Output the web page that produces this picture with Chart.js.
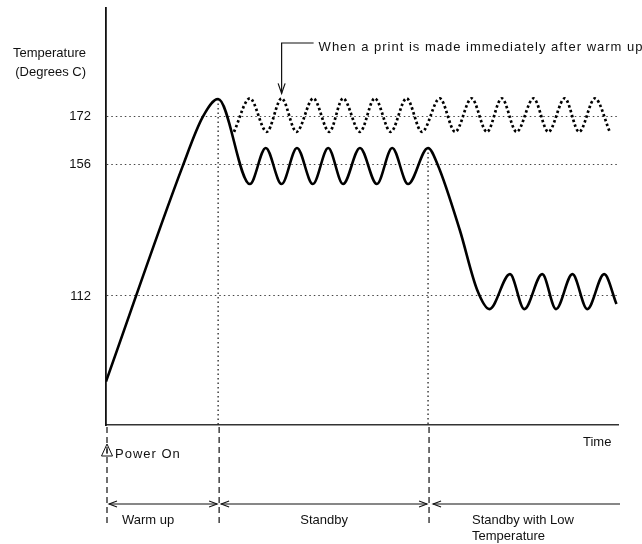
<!DOCTYPE html>
<html>
<head>
<meta charset="utf-8">
<script src="https://cdn.jsdelivr.net/npm/chart.js@4.4.1/dist/chart.umd.min.js"></script>
<style>
  html, body { margin: 0; padding: 0; background: #fff; }
  #wrap { width: 642px; height: 544px; position: relative; }
</style>
</head>
<body>
<div id="wrap"><canvas id="myChart"></canvas></div>
<script>
// time has no units on the original, so it runs 0..100 across the axis
// temperature in degrees C
const heaterTime = [0, 15.0, 18.9, 21.9, 28.1, 31.2, 34.3, 37.3, 40.4, 43.4, 46.3, 49.6, 52.9, 55.9, 59.0, 62.9,
  64.8, 69.1, 72.5, 74.9, 78.9, 81.7, 85.2, 87.9, 91.1, 94.0, 97.3, 99.7];
const heaterTemp = [83.3, 155.6, 172, 178, 149.5, 161.6, 149.5, 161.6, 149.5, 161.6, 149.5, 161.6, 149.5, 161.6, 149.5, 161.6,
  155.9, 134.1, 114, 107.6, 119.3, 107.6, 119.3, 107.6, 119.3, 107.6, 119.3, 109.3];

// dotted curve: a print straight after warm up
const printTime = [25.0, 28.1, 31.4, 34.3, 37.2, 40.5, 43.6, 46.3, 49.6, 52.5, 55.6, 58.7, 61.7,
  65.2, 68.2, 71.4, 74.4, 77.3, 80.2, 83.5, 86.4, 89.6, 92.4, 95.5, 98.4];
const printTemp = [167, 178.2, 167, 178.2, 167, 178.2, 167, 178.2, 167, 178.2, 167, 178.2, 167,
  178.2, 167, 178.2, 167, 178.2, 167, 178.2, 167, 178.2, 167, 178.2, 167];

const tempTicks = [112, 156, 172];
const tempRange = [68.75, 208.5];
const phaseEdges = [0, 21.9, 62.9];
const phaseTops = [83.3, 178, 161.6];
const phaseLabels = [['Warm up'], ['Standby'], ['Standby with Low', 'Temperature']];
const axisTitle = ['Temperature', '(Degrees C)'];
const noteText = 'When a print is made immediately after warm up';
const notePoint = 3; // which dotted peak the arrow points at

const FONT = '13px "Liberation Sans", Arial, sans-serif';
const INK = '#111';

function arrowHead(ctx, x, y, dir) {
  ctx.beginPath();
  ctx.moveTo(x + dir * 8, y - 3);
  ctx.lineTo(x, y);
  ctx.lineTo(x + dir * 8, y + 3);
  ctx.stroke();
}

const overlay = {
  id: 'overlay',
  afterDraw(chart) {
    const { ctx, chartArea: area, scales: { x, y } } = chart;
    ctx.save();
    ctx.fillStyle = INK;
    ctx.strokeStyle = INK;
    ctx.font = FONT;
    ctx.textBaseline = 'middle';

    // axis title, top left
    ctx.textAlign = 'right';
    ctx.fillText(axisTitle[0], 86, 53);
    ctx.fillText(axisTitle[1], 86, 72);

    // note with bent arrow
    const ax = x.getPixelForValue(printTime[notePoint]);
    const tipY = y.getPixelForValue(printTemp[notePoint]) - 5;
    const topY = area.top + 35;
    ctx.lineWidth = 1.2;
    ctx.beginPath();
    ctx.moveTo(ax + 32, topY);
    ctx.lineTo(ax, topY);
    ctx.lineTo(ax, tipY);
    ctx.stroke();
    ctx.beginPath();
    ctx.moveTo(ax - 3.5, tipY - 10);
    ctx.lineTo(ax, tipY);
    ctx.lineTo(ax + 3.5, tipY - 10);
    ctx.stroke();
    ctx.textAlign = 'left';
    ctx.letterSpacing = '1px';
    ctx.fillText(noteText, ax + 37, topY + 4);

    // time label
    ctx.letterSpacing = '0px';
    ctx.fillText('Time', area.right - 35, area.bottom + 17);

    // power on marker
    const p0 = x.getPixelForValue(phaseEdges[0]);
    ctx.lineWidth = 1;
    ctx.beginPath();
    ctx.moveTo(p0 + 1, area.bottom + 19);
    ctx.lineTo(p0 + 6.5, area.bottom + 31);
    ctx.lineTo(p0 - 4.5, area.bottom + 31);
    ctx.closePath();
    ctx.stroke();
    ctx.beginPath();
    ctx.moveTo(p0 + 1, area.bottom + 24);
    ctx.lineTo(p0 + 1, area.bottom + 29);
    ctx.stroke();
    ctx.letterSpacing = '1px';
    ctx.fillText('Power On', p0 + 9, area.bottom + 29);
    ctx.letterSpacing = '0px';

    // dashed phase dividers below the axis
    ctx.lineWidth = 1.2;
    ctx.setLineDash([6, 4]);
    phaseEdges.forEach(t => {
      const px = x.getPixelForValue(t) + 1;
      ctx.beginPath();
      ctx.moveTo(px, area.bottom + 2);
      ctx.lineTo(px, area.bottom + 98);
      ctx.stroke();
    });
    ctx.setLineDash([]);

    // phase span arrows
    const ay = area.bottom + 79;
    const xs = phaseEdges.map(t => x.getPixelForValue(t) + 1);
    ctx.lineWidth = 1.1;
    const spans = [[xs[0] + 2, xs[1] - 2, true], [xs[1] + 2, xs[2] - 2, true], [xs[2] + 4, area.right + 2, false]];
    spans.forEach(([a, b, both]) => {
      ctx.beginPath();
      ctx.moveTo(a, ay);
      ctx.lineTo(b, ay);
      ctx.stroke();
      arrowHead(ctx, a, ay, 1);
      if (both) arrowHead(ctx, b, ay, -1);
    });

    // phase names
    ctx.textAlign = 'left';
    ctx.fillText(phaseLabels[0][0], xs[0] + 15, area.bottom + 95);
    ctx.textAlign = 'center';
    ctx.fillText(phaseLabels[1][0], (xs[1] + xs[2]) / 2, area.bottom + 95);
    ctx.textAlign = 'left';
    phaseLabels[2].forEach((line, i) => ctx.fillText(line, xs[2] + 43, area.bottom + 95 + i * 16));

    ctx.restore();
  }
};

const toPoints = (ts, vs) => ts.map((t, i) => ({ x: t, y: vs[i] }));

// vertical dotted guides from the two peaks down to the axis
const guides = phaseEdges.slice(1).map((t, i) => ({
  data: [{ x: t, y: phaseTops[i + 1] }, { x: t, y: tempRange[0] }],
  borderColor: '#222',
  borderWidth: 1.3,
  borderDash: [1.5, 3],
  pointRadius: 0,
  tension: 0
}));

new Chart(document.getElementById('myChart'), {
  type: 'line',
  data: {
    datasets: [
      {
        data: toPoints(heaterTime, heaterTemp),
        borderColor: '#000',
        borderWidth: 2.6,
        pointRadius: 0,
        cubicInterpolationMode: 'monotone'
      },
      {
        data: toPoints(printTime, printTemp),
        borderColor: '#000',
        borderWidth: 2.7,
        borderDash: [2.5, 2.5],
        pointRadius: 0,
        cubicInterpolationMode: 'monotone'
      },
      ...guides
    ]
  },
  options: {
    responsive: true,
    maintainAspectRatio: false,
    animation: false,
    layout: { padding: { top: 8, right: 24, bottom: 119, left: 0 } },
    plugins: { legend: { display: false }, tooltip: { enabled: false } },
    scales: {
      x: {
        type: 'linear',
        min: 0,
        max: 100,
        ticks: { display: false },
        grid: { display: false },
        border: { display: true, color: '#333', width: 1.5 },
        afterFit: s => { s.height = 0; s.paddingLeft = 0; s.paddingRight = 0; }
      },
      y: {
        type: 'linear',
        min: tempRange[0],
        max: tempRange[1],
        afterBuildTicks: s => { s.ticks = tempTicks.map(v => ({ value: v })); },
        afterFit: s => { s.width = 106; s.paddingTop = 0; s.paddingBottom = 0; },
        ticks: { color: INK, padding: 15, font: { family: '"Liberation Sans", Arial, sans-serif', size: 13 } },
        grid: { drawTicks: false, color: '#444', lineWidth: 1 },
        border: { display: true, color: '#111', width: 1.8, dash: [1.5, 3] }
      }
    }
  },
  plugins: [overlay]
});
</script>
</body>
</html>
